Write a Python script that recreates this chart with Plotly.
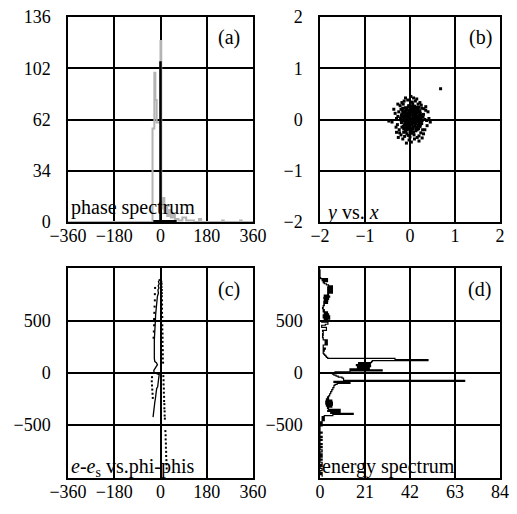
import plotly.graph_objects as go

# ---------------- (a) phase spectrum ----------------
phase_gray_edges = [-360, -31, -24, -20, -15, 0, 3, 7, 11, 15, 20, 26, 32, 40, 48, 56, 70, 85, 100, 130, 150, 158, 240, 246, 310, 316, 360]
phase_gray_counts = [0, 62, 99, 81, 66, 120, 15, 9, 16, 6, 11, 4, 8, 3, 5, 2, 1, 3, 1, 0, 2, 0, 1, 0, 1, 0, 0]
phase_black_x = [-28, -1, -1, 1, 1, 63]
phase_black_y = [0.6, 0.6, 106, 106, 0.6, 0.6]

# ---------------- (b) y vs. x ----------------
bx = [0.02, -0.05, 0.10, 0.15, -0.12, 0.06, -0.08, 0.20, -0.17, 0.12, 0.00, -0.02, 0.08, -0.10, 0.18, -0.15, 0.04, 0.24, -0.06, 0.13,
      -0.19, 0.09, -0.03, 0.16, -0.11, 0.05, 0.22, -0.14, 0.01, 0.11, -0.07, 0.19, -0.01, 0.07, -0.16, 0.14, -0.09, 0.25, 0.03, -0.13,
      0.10, -0.04, 0.17, -0.18, 0.06, 0.21, -0.05, 0.12, -0.10, 0.00, 0.15, -0.07, 0.08, 0.23, -0.20, 0.04, -0.12, 0.18, -0.02, 0.09,
      -0.15, 0.13, -0.06, 0.02, 0.20, -0.09, 0.11, -0.17, 0.06, 0.27, -0.03, 0.16, -0.11, 0.03, 0.14, -0.08, 0.07, -0.14, 0.19, 0.00,
      -0.05, 0.10, 0.22, -0.19, 0.05, -0.12, 0.12, -0.01, 0.17, -0.07, 0.08, -0.16, 0.25, 0.01, -0.04, 0.13, -0.10, 0.06, 0.20, -0.13,
      0.03, 0.15, -0.06, 0.09, -0.18, 0.18, -0.02, 0.11, -0.09, 0.04, 0.23, -0.15, 0.07, -0.05, 0.14, -0.21, 0.02, 0.17, -0.08, 0.10,
      -0.11, 0.05, 0.19, -0.03, 0.26, -0.14, 0.08, -0.01, 0.12, -0.07,
      0.30, -0.25, 0.28, -0.24, 0.05, 0.00, -0.30, 0.33, 0.18, -0.15, 0.20, -0.12, 0.35, -0.28, 0.10, -0.05, 0.38, -0.33, 0.25, -0.22,
      0.30, -0.20, 0.42, -0.40, 0.08, 0.03, -0.27, 0.35, 0.27, -0.30, 0.45, -0.47, 0.15, -0.10, 0.20, -0.08, 0.40, -0.36, 0.33, -0.26,
      0.12, -0.02, 0.29, -0.27, 0.24, -0.18, 0.31, -0.23, 0.06, -0.04, 0.37, -0.31, 0.22, -0.13, 0.16, -0.16, 0.26, 0.09, -0.20, 0.02,
      0.68]
by = [0.01, 0.08, -0.04, 0.12, -0.10, -0.18, 0.20, 0.02, 0.05, 0.22, -0.25, 0.15, 0.06, -0.02, -0.12, 0.15, 0.26, -0.05, -0.15, -0.22,
      -0.06, 0.16, -0.07, 0.06, 0.10, -0.10, 0.17, -0.18, 0.21, 0.00, 0.03, -0.18, -0.19, 0.11, 0.22, -0.08, -0.24, 0.08, -0.03, 0.01,
      0.19, 0.24, -0.01, 0.11, 0.03, -0.09, -0.11, 0.09, 0.17, 0.06, -0.15, -0.20, -0.25, 0.12, -0.01, 0.14, 0.06, 0.21, -0.14, -0.06,
      -0.13, 0.04, 0.12, -0.21, 0.09, -0.05, -0.13, 0.18, 0.23, -0.02, 0.02, -0.20, -0.22, 0.09, 0.15, 0.07, -0.15, 0.04, 0.05, -0.09,
      0.18, 0.26, -0.14, 0.08, 0.00, -0.16, -0.02, 0.11, 0.18, -0.28, 0.13, -0.03, 0.03, -0.16, -0.02, -0.18, 0.23, 0.19, -0.06, 0.13,
      -0.27, 0.01, -0.08, 0.03, -0.15, 0.14, 0.05, -0.09, 0.14, -0.06, -0.11, 0.07, 0.07, -0.18, 0.24, 0.03, 0.17, -0.04, -0.13, 0.10,
      -0.07, -0.22, 0.24, 0.27, -0.08, -0.25, -0.01, -0.05, 0.16, 0.00,
      0.10, 0.15, -0.20, -0.20, 0.34, -0.34, 0.02, 0.00, 0.30, 0.30, -0.32, -0.33, 0.18, -0.10, -0.38, 0.38, -0.12, 0.12, 0.28, 0.27,
      -0.28, -0.30, 0.02, -0.05, 0.42, -0.44, 0.30, 0.25, -0.36, -0.25, -0.05, -0.03, 0.40, 0.42, -0.42, -0.46, 0.15, 0.20, -0.20, -0.35,
      0.36, -0.40, 0.05, 0.06, -0.26, 0.33, 0.21, -0.26, 0.30, -0.31, -0.02, -0.15, 0.33, 0.36, -0.35, -0.38, 0.22, -0.30, 0.20, 0.45,
      0.60]

# ---------------- (c) e-e_s vs. phi-phis ----------------
c_line_x = [-6, -4, -8, -5, -9, -6, -10, -8, -12, -14, -16, -17, -19, -20, -22, -23, -24, -24, -25, -24, -22, -16, -12, -16, -22,
            -26, -25, -18, -5, -7, -9, -11, -15, -17, -20, -22, -24, -26, -28, -30, -31, -29]
c_line_y = [905, 895, 880, 860, 840, 820, 800, 770, 740, 700, 650, 617, 560, 500, 440, 380, 320, 260, 200, 140, 110, 100, 80, 65, 45,
            25, 5, -5, -16, -50, -86, -134, -150, -214, -250, -278, -320, -342, -374, -400, -413, -425]
c_dot_x = [3, 4, 4, 5, 5, 5, 6, 6, 6, 6, 7, 7, 7, 7, 8, 8, 8, 8, 9, 9, 9, 10,
           11, 12, 12, 13, 13, 14, 14, 15, 15, 16, 16, 17,
           19, 20, 20, 21, 21, 22, 22, 23, 23, 24,
           -21, -22, -22, -23, -24, -25, -25, -26, -27,
           -33, -34, -33, -32, -31, -30]
c_dot_y = [880, 860, 830, 800, 770, 740, 700, 660, 620, 580, 540, 500, 460, 420, 380, 340, 300, 260, 220, 180, 140, 100,
           -30, -70, -110, -150, -190, -230, -270, -300, -340, -370, -410, -440,
           -560, -600, -640, -680, -720, -760, -800, -840, -880, -920,
           820, 760, 700, 640, 580, 520, 460, 400, 340,
           -40, -80, -120, -160, -200, -240]

# ---------------- (d) energy spectrum ----------------
energy_edges = list(range(-1000, 1000, 10))
energy_counts = [
    1, 1, 0, 1, 0, 0, 1, 1, 0, 0,
    1, 0, 1, 1, 0, 0, 1, 0, 0, 1,
    0, 1, 0, 0, 1, 1, 0, 0, 1, 0,
    0, 1, 0, 0, 0, 1, 0, 0, 1, 0,
    0, 0, 1, 0, 0, 0, 0, 0, 0, 1,
    0, 1, 0, 1, 2, 1, 2, 1, 2, 6,
    15.5, 5, 9.4, 3.6, 9.4, 4, 3.5, 5.5, 3, 5.8,
    2.7, 5.8, 2.7, 5.5, 3, 4, 3.5, 4, 4.5, 4.5,
    5, 5, 5.5, 5.5, 6, 6, 6.5, 6.5, 7, 8,
    14, 6.5, 67.5, 11, 11, 10.3, 8.5, 7.5, 6.5, 5.8,
    7, 14, 29, 14, 23, 17.5, 23.6, 17, 23.5, 18,
    24, 24.4, 50.4, 35, 3.6, 3, 2.7, 2.2, 1.8, 1.5,
    1.5, 2, 1.5, 2.5, 1.5, 1.5, 1.5, 3.4, 2.4, 3.4,
    2.4, 3.4, 1.5, 1.5, 1.2, 1.2, 1.5, 1.2, 1.5, 1.5,
    1.2, 3, 3, 3, 0.8, 0.8, 2.5, 3.7, 3.7, 0.8,
    3.5, 2, 4.5, 1.5, 4.5, 1.5, 4, 2, 3.5, 1.5,
    2, 1.5, 1.2, 1.5, 1.5, 2, 1.8, 3.5, 1.8, 3.6,
    2, 4, 1.8, 4.5, 2, 4, 3.6, 5.8, 3.6, 5.8,
    3.6, 5.8, 3.6, 5.8, 4, 3, 2, 1.5, 3.5, 1,
    3.5, 0.3, 0, 0, 0, 0, 0, 0, 0, 0,
]
energy_top = 1000

# ---------------- tick labels ----------------
phase_ticks = [-360, -180, 0, 180, 360]
phase_ticktext = ["\u2212360", "\u2212180", "0", "180", "360"]
count_ticks = [0, 34, 68, 102, 136]
count_ticktext = ["0", "34", "62", "102", "136"]
xy_ticks = [-2, -1, 0, 1, 2]
xy_ticktext = ["\u22122", "\u22121", "0", "1", "2"]
e_ticks = [-500, 0, 500]
e_ticktext = ["\u2212500", "0", "500"]
spec_ticks = [0, 21, 42, 63, 84]
spec_ticktext = ["0", "21", "42", "63", "84"]

FONT = "Liberation Serif, Times New Roman, DejaVu Serif, serif"
PAGE_W, PAGE_H = 517, 514
OFF = 8  # default page body margin
W, H = PAGE_W - 2 * OFF, PAGE_H - 2 * OFF

fig = go.Figure()

fig.add_trace(go.Scatter(x=phase_gray_edges, y=phase_gray_counts, mode="lines", line_shape="hv",
                         line=dict(color="#b4b4b4", width=2), xaxis="x", yaxis="y"))
fig.add_trace(go.Scatter(x=phase_black_x, y=phase_black_y, mode="lines",
                         line=dict(color="black", width=2), xaxis="x", yaxis="y"))

fig.add_trace(go.Scatter(x=bx, y=by, mode="markers",
                         marker=dict(symbol="square", size=3, color="black", line=dict(width=0)),
                         xaxis="x2", yaxis="y2"))

fig.add_trace(go.Scatter(x=c_line_x, y=c_line_y, mode="lines",
                         line=dict(color="black", width=1.3), xaxis="x3", yaxis="y3"))
fig.add_trace(go.Scatter(x=c_dot_x, y=c_dot_y, mode="markers",
                         marker=dict(symbol="square", size=2, color="black", line=dict(width=0)),
                         xaxis="x3", yaxis="y3"))

fig.add_trace(go.Scatter(x=energy_counts + [energy_counts[-1]], y=energy_edges + [energy_top],
                         mode="lines", line_shape="vh",
                         line=dict(color="black", width=1.2), xaxis="x4", yaxis="y4"))


def ax(domain, rng, tv, tt, anchor, standoff, layer="above traces"):
    return dict(domain=domain, range=rng, tickvals=tv, ticktext=tt, anchor=anchor,
                showline=True, mirror=True, linecolor="black", linewidth=1.5,
                showgrid=True, gridcolor="black", gridwidth=1.5, zeroline=False,
                ticks="", ticklabelstandoff=standoff, layer=layer, automargin=False,
                ticklabeloverflow="allow",
                tickfont=dict(family=FONT, size=18, color="black"), fixedrange=True)


def xdom(p0, p1):
    return [(p0 - OFF) / W, (p1 - OFF) / W]


def ydom(top, bottom):
    return [1 - (bottom - OFF) / H, 1 - (top - OFF) / H]


xa = xdom(68, 253)
xb = xdom(320, 500)
xd = xdom(320, 500)
ytop = ydom(17, 222)
ybot = ydom(268, 478)

XS = -3  # x tick label standoff

fig.update_layout(
    template="none",
    width=W, height=H, autosize=False,
    margin=dict(l=0, r=0, t=0, b=0, autoexpand=False),
    paper_bgcolor="white", plot_bgcolor="white",
    showlegend=False,
    font=dict(family=FONT, size=18, color="black"),
    xaxis=ax(xa, [-360, 360], phase_ticks, phase_ticktext, "y", XS, "below traces"),
    yaxis=ax(ytop, [0, 136], count_ticks, count_ticktext, "x", 12, "below traces"),
    xaxis2=ax(xb, [-2, 2], xy_ticks, xy_ticktext, "y2", XS),
    yaxis2=ax(ytop, [-2, 2], xy_ticks, xy_ticktext, "x2", 12),
    xaxis3=ax(xa, [-360, 360], phase_ticks, phase_ticktext, "y3", XS),
    yaxis3=ax(ybot, [-1012, 1012], e_ticks, e_ticktext, "x3", 12),
    xaxis4=ax(xd, [0, 84], spec_ticks, spec_ticktext, "y4", XS),
    yaxis4=ax(ybot, [-1012, 1012], e_ticks, e_ticktext, "x4", 12),
)

ann_font = dict(family=FONT, size=20, color="black")
labels = [
    ("x", "y", 0.87, 0.9, "center", "(a)"),
    ("x", "y", 0.01, 0.07, "left", "phase spectrum"),
    ("x2", "y2", 0.89, 0.9, "center", "(b)"),
    ("x2", "y2", 0.027, 0.045, "left", "<i>y</i> vs. <i>x</i>"),
    ("x3", "y3", 0.87, 0.9, "center", "(c)"),
    ("x3", "y3", 0.01, 0.052, "left", "<i>e</i>-<i>e</i><sub>s</sub> vs.phi-phis"),
    ("x4", "y4", 0.888, 0.9, "center", "(d)"),
    ("x4", "y4", 0.005, 0.057, "left", "energy spectrum"),
]
for xr, yr, xx, yy, anc, txt in labels:
    fig.add_annotation(xref=xr + " domain", yref=yr + " domain", x=xx, y=yy, text=txt,
                       showarrow=False, xanchor=anc, yanchor="middle", font=ann_font, borderpad=0)

fig.write_html("out.html")
